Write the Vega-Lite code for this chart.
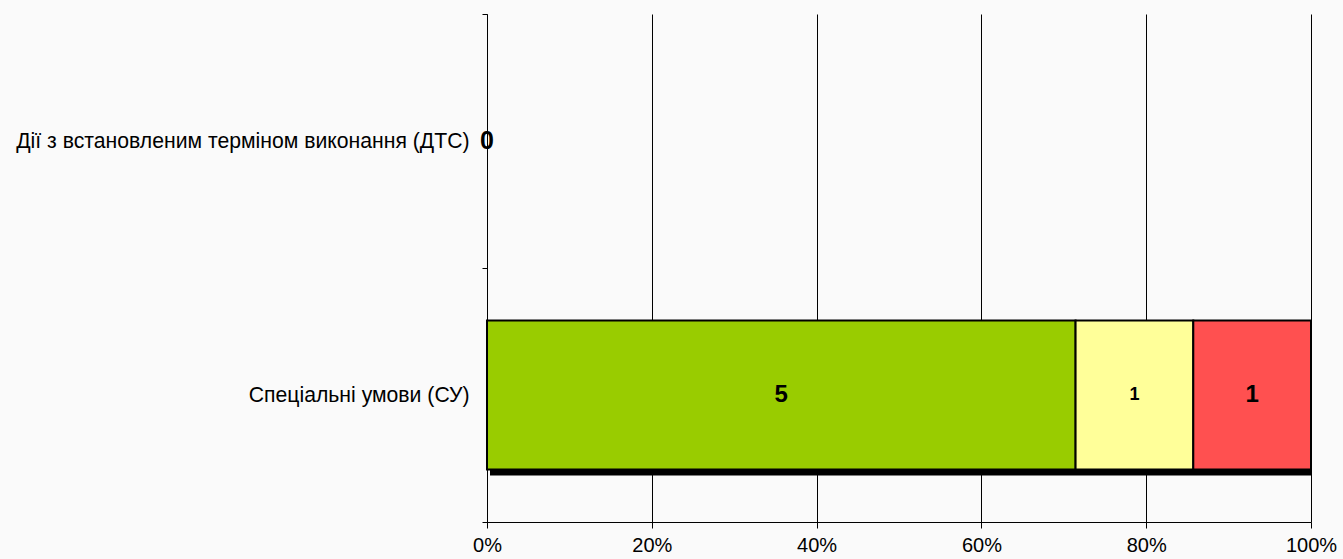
{
  "$schema": "https://vega.github.io/schema/vega-lite/v6.json",
  "width": 824,
  "height": 508,
  "autosize": {"type": "none"},
  "padding": {"left": 487, "top": 14, "right": 32, "bottom": 37},
  "background": "#fafafa",
  "config": {
    "view": {"stroke": null},
    "font": "Liberation Sans"
  },
  "data": {
    "values": [
      {"cat": "Дії з встановленим терміном виконання (ДТС)", "status": "Виконано", "value": 0},
      {"cat": "Спеціальні умови (СУ)", "status": "Виконано", "value": 5},
      {"cat": "Спеціальні умови (СУ)", "status": "Виконується", "value": 1},
      {"cat": "Спеціальні умови (СУ)", "status": "Не виконано", "value": 1}
    ]
  },
  "encoding": {
    "y": {
      "field": "cat",
      "type": "nominal",
      "sort": null,
      "scale": {
        "domain": ["Дії з встановленим терміном виконання (ДТС)", "Спеціальні умови (СУ)"],
        "paddingInner": 0,
        "paddingOuter": 0
      },
      "axis": {
        "title": null,
        "domainColor": "#000000",
        "domainWidth": 1,
        "tickColor": "#000000",
        "tickBand": "extent",
        "tickSize": 5,
        "labelFontSize": 21.2,
        "labelColor": "#000000",
        "labelPadding": 13,
        "labelLimit": 700
      }
    }
  },
  "layer": [
    {
      "transform": [{"filter": "datum.value > 0"}, {"filter": "datum.status === 'Виконано'"}],
      "mark": {"type": "bar", "color": "#000000", "xOffset": 3, "yOffset": 6, "height": {"band": 0.587}},
      "encoding": {
        "x": {"datum": 0, "type": "quantitative", "scale": {"domain": [0, 1]}},
        "x2": {"datum": 1}
      }
    },
    {
      "transform": [{"filter": "datum.value > 0"}],
      "mark": {"type": "bar", "stroke": "#000000", "strokeWidth": 2, "height": {"band": 0.587}},
      "encoding": {
        "x": {
          "field": "value",
          "type": "quantitative",
          "stack": "normalize",
          "scale": {"domain": [0, 1]},
          "axis": {
            "title": null,
            "format": ".0%",
            "values": [0, 0.2, 0.4, 0.6, 0.8, 1],
            "grid": true,
            "gridColor": "#000000",
            "gridOpacity": 1,
            "gridWidth": 1,
            "domainColor": "#000000",
            "tickColor": "#000000",
            "tickSize": 6,
            "labelFontSize": 20,
            "labelColor": "#000000",
            "labelPadding": 7,
            "labelFlush": false
          }
        },
        "order": {"field": "status", "type": "nominal", "sort": "ascending"},
        "color": {
          "field": "status",
          "type": "nominal",
          "sort": null,
          "scale": {
            "domain": ["Виконано", "Виконується", "Не виконано"],
            "range": ["#99cc00", "#ffff99", "#ff5050"]
          },
          "legend": null
        }
      }
    },
    {
      "transform": [{"filter": "datum.value > 0"}],
      "mark": {"type": "text", "fontWeight": "bold", "color": "#000000", "baseline": "middle", "align": "center"},
      "encoding": {
        "x": {"field": "value", "type": "quantitative", "stack": "normalize", "bandPosition": 0.5},
        "detail": {"field": "status", "type": "nominal"},
        "order": {"field": "status", "type": "nominal", "sort": "ascending"},
        "text": {"field": "value", "type": "quantitative"},
        "size": {"condition": {"test": "datum.status === 'Виконується'", "value": 18}, "value": 24}
      }
    },
    {
      "transform": [{"filter": "datum.value === 0"}],
      "mark": {"type": "text", "fontWeight": "bold", "color": "#000000", "baseline": "middle", "align": "center", "fontSize": 25},
      "encoding": {
        "x": {"field": "value", "type": "quantitative", "stack": null},
        "text": {"field": "value", "type": "quantitative"}
      }
    }
  ]
}
